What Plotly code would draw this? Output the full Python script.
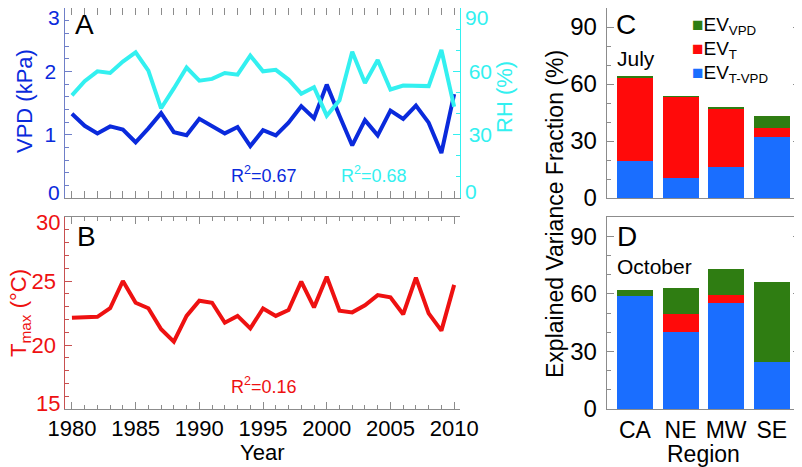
import plotly.graph_objects as go

# Data
YEARS = list(range(1980, 2011))
VPD = [1.33, 1.14, 1.02, 1.13, 1.08, 0.88, 1.10, 1.34, 1.04, 0.99, 1.25, 1.14, 1.02, 1.12, 0.82, 1.07,
       0.99, 1.19, 1.45, 1.26, 1.79, 1.30, 0.83, 1.23, 0.99, 1.38, 1.25, 1.46, 1.19, 0.71, 1.64]
RH = [48.6, 55.3, 60.0, 59.2, 64.6, 69.0, 60.3, 42.5, 51.9, 61.8, 55.6, 56.4, 59.2, 58.4, 67.4, 60.0,
      60.7, 56.1, 49.4, 52.5, 39.0, 46.3, 69.3, 54.5, 65.4, 51.4, 53.3, 53.3, 53.0, 70.1, 43.2]
TMAX = [22.13, 22.15, 22.2, 22.87, 25.0, 23.3, 22.87, 21.23, 20.26, 22.27, 23.46, 23.3, 21.74, 22.27, 21.3, 22.85,
        22.27, 22.73, 24.95, 22.94, 25.34, 22.68, 22.55, 23.1, 23.9, 23.72, 22.4, 25.26, 22.47, 21.12, 24.7]

REGIONS = ["CA", "NE", "MW", "SE"]
# July
JUL_TVPD = [19.5, 10.5, 16.5, 32.2]
JUL_T = [44.0, 42.8, 30.5, 4.7]
JUL_VPD = [0.4, 0.3, 0.4, 6.3]
# October
OCT_TVPD = [58.6, 40.2, 55.2, 24.7]
OCT_T = [0.0, 9.5, 4.3, 0.0]
OCT_VPD = [3.5, 13.1, 13.6, 41.2]

# Colours
C_VPD = "#0A2ADC"
C_RH = "#33F0F0"
C_TMAX = "#EE1111"
C_GREEN = "#2F7D12"
C_RED = "#FF0A0A"
C_BLUE = "#1A6EFF"
GRAY = "#8C8C8C"
FONT = "Liberation Sans, Arial, sans-serif"

# the page body has an 8px margin, so the figure sits at (8, 8) in the window
OFF = 8
W, H = 802 - OFF, 467 - OFF


def px(x):
    return (x - OFF) / W


def py(y):
    return 1 - (y - OFF) / H


XA = [px(65.3), px(459.5)]
XC = [px(606.7), px(800)]
YTOP = [py(198), 1.0]
YBOT = [py(409), py(217)]

fig = go.Figure()

# A: VPD and RH
fig.add_trace(go.Scatter(x=YEARS, y=VPD, mode="lines", line=dict(color=C_VPD, width=4),
                         xaxis="x", yaxis="y", showlegend=False))
fig.add_trace(go.Scatter(x=YEARS, y=RH, mode="lines", line=dict(color=C_RH, width=4),
                         xaxis="x", yaxis="y2", showlegend=False))
# B: Tmax
fig.add_trace(go.Scatter(x=YEARS, y=TMAX, mode="lines", line=dict(color=C_TMAX, width=4),
                         xaxis="x2", yaxis="y3", showlegend=False))

# C, D: stacked bars
for xa, ya, parts in [("x3", "y4", (JUL_TVPD, JUL_T, JUL_VPD)),
                      ("x4", "y5", (OCT_TVPD, OCT_T, OCT_VPD))]:
    for vals, col in zip(parts, (C_BLUE, C_RED, C_GREEN)):
        fig.add_trace(go.Bar(x=REGIONS, y=vals, marker=dict(color=col, line=dict(width=0)),
                             width=0.79, xaxis=xa, yaxis=ya, showlegend=False))


def yax(domain, rng, dtick, minor, color, linecolor, anchor, labels=True, size=21, **kw):
    d = dict(domain=domain, range=rng, dtick=dtick, tick0=0, anchor=anchor, automargin=False,
             showgrid=False, zeroline=False, showline=True, linecolor=linecolor, linewidth=1,
             ticks="inside", ticklen=7, tickcolor=linecolor, showticklabels=labels,
             ticklabelstandoff=4,
             tickfont=dict(family=FONT, size=size, color=color),
             minor=dict(ticks="inside", ticklen=4, dtick=minor, tickcolor=linecolor))
    d.update(kw)
    return d


def xax(domain, anchor, labels, size=22, **kw):
    d = dict(domain=domain, anchor=anchor, automargin=False, showgrid=False, zeroline=False,
             showline=True, linecolor=GRAY, linewidth=1, mirror="allticks",
             ticks="inside", ticklen=7, tickcolor=GRAY, showticklabels=labels,
             tickfont=dict(family=FONT, size=size, color="black"))
    d.update(kw)
    return d


year_kw = dict(range=[1979.48, 2010.42], dtick=5, tick0=1980,
               minor=dict(ticks="inside", ticklen=4, dtick=1, tickcolor=GRAY))
cat_kw = dict(type="category", range=[-0.62, 3.62], ticks="")

# edge tick labels are nudged inward (as in the reference), so they are drawn as annotations
fig.update_layout(
    width=W, height=H,
    margin=dict(l=0, r=0, t=0, b=0),
    plot_bgcolor="white", paper_bgcolor="white",
    barmode="stack", bargap=0,
    xaxis=xax(XA, "y", False, **year_kw),
    xaxis2=xax(XA, "y3", True, **year_kw),
    xaxis3=xax(XC, "y4", False, **cat_kw),
    xaxis4=xax(XC, "y5", True, size=23, **cat_kw),
    yaxis=yax(YTOP, [0, 3], 1, 0.2, C_VPD, "#6F7FC8", "x",
              tickvals=[0, 1, 2, 3], ticktext=["", "1", "2", ""]),
    yaxis2=yax(YTOP, [0, 90], 30, 10, C_RH, C_RH, "x", overlaying="y", side="right",
               tickvals=[0, 30, 60, 90], ticktext=["", "30", "60", ""]),
    yaxis3=yax(YBOT, [15, 30], 5, 1, C_TMAX, "#C85050", "x2", size=22,
               tickvals=[15, 20, 25, 30], ticktext=["", "20", "25", ""]),
    yaxis6=yax(YBOT, [15, 30], 5, 1, GRAY, GRAY, "x2", labels=False, overlaying="y3", side="right"),
    yaxis4=yax(YTOP, [0, 100], 30, 10, "black", GRAY, "x3", size=24, mirror="allticks",
               tickvals=[0, 30, 60, 90]),
    yaxis5=yax(YBOT, [0, 100], 30, 10, "black", GRAY, "x4", size=24, mirror="allticks",
               tickvals=[0, 30, 60, 90]),
)

ann = []


def add_text(text, x, y, size, color="black", angle=0, xanchor="center", yanchor="middle"):
    ann.append(dict(text=text, x=px(x), y=py(y), xref="paper", yref="paper", showarrow=False,
                    textangle=angle, xanchor=xanchor, yanchor=yanchor,
                    font=dict(family=FONT, size=size, color=color)))


def edge_label(text, x, xanchor, yref, yval, shift, color, size):
    ann.append(dict(text=text, x=px(x), xref="paper", y=yval, yref=yref, yshift=shift,
                    xanchor=xanchor, showarrow=False, borderpad=0,
                    font=dict(family=FONT, size=size, color=color)))


edge_label("3", 61, "right", "y", 3, -9, C_VPD, 21)
edge_label("0", 61, "right", "y", 0, 6, C_VPD, 21)
edge_label("90", 464, "left", "y2", 90, -9, C_RH, 21)
edge_label("0", 464, "left", "y2", 0, 7, C_RH, 21)
edge_label("30", 61, "right", "y3", 30, -5, C_TMAX, 22)
edge_label("15", 61, "right", "y3", 15, 6, C_TMAX, 22)

# panel letters and month labels
add_text("A", 73, 25, 28, xanchor="left")
add_text("B", 75, 236, 28, xanchor="left")
add_text("C", 614, 25, 28, xanchor="left")
add_text("D", 615, 237, 28, xanchor="left")
add_text("July", 615, 58, 21, xanchor="left")
add_text("October", 615, 266, 21, xanchor="left")

# axis titles
add_text("VPD (kPa)", 25, 101, 22, C_VPD, -90)
add_text("RH (%)", 504, 97, 22, C_RH, -90)
add_text("T<sub>max</sub> (°C)", 20, 313, 22, C_TMAX, -90)
add_text("Explained Variance Fraction (%)", 555, 214, 23, "black", -90)
add_text("Year", 262, 452, 22)
add_text("Region", 703, 454, 23)

# R^2 labels
add_text("R<sup>2</sup>=0.67", 264, 174, 18, C_VPD)
add_text("R<sup>2</sup>=0.68", 374, 174, 18, C_RH)
add_text("R<sup>2</sup>=0.16", 264, 385, 18, C_TMAX)

# legend for panel C
for label, col, y in [("EV<sub>VPD</sub>", C_GREEN, 26), ("EV<sub>T</sub>", C_RED, 50),
                      ("EV<sub>T-VPD</sub>", C_BLUE, 74)]:
    add_text(f'<span style="color:{col}">■</span>{label}', 690, y, 19, xanchor="left")

fig.update_layout(annotations=ann)

fig.write_html("out.html")
